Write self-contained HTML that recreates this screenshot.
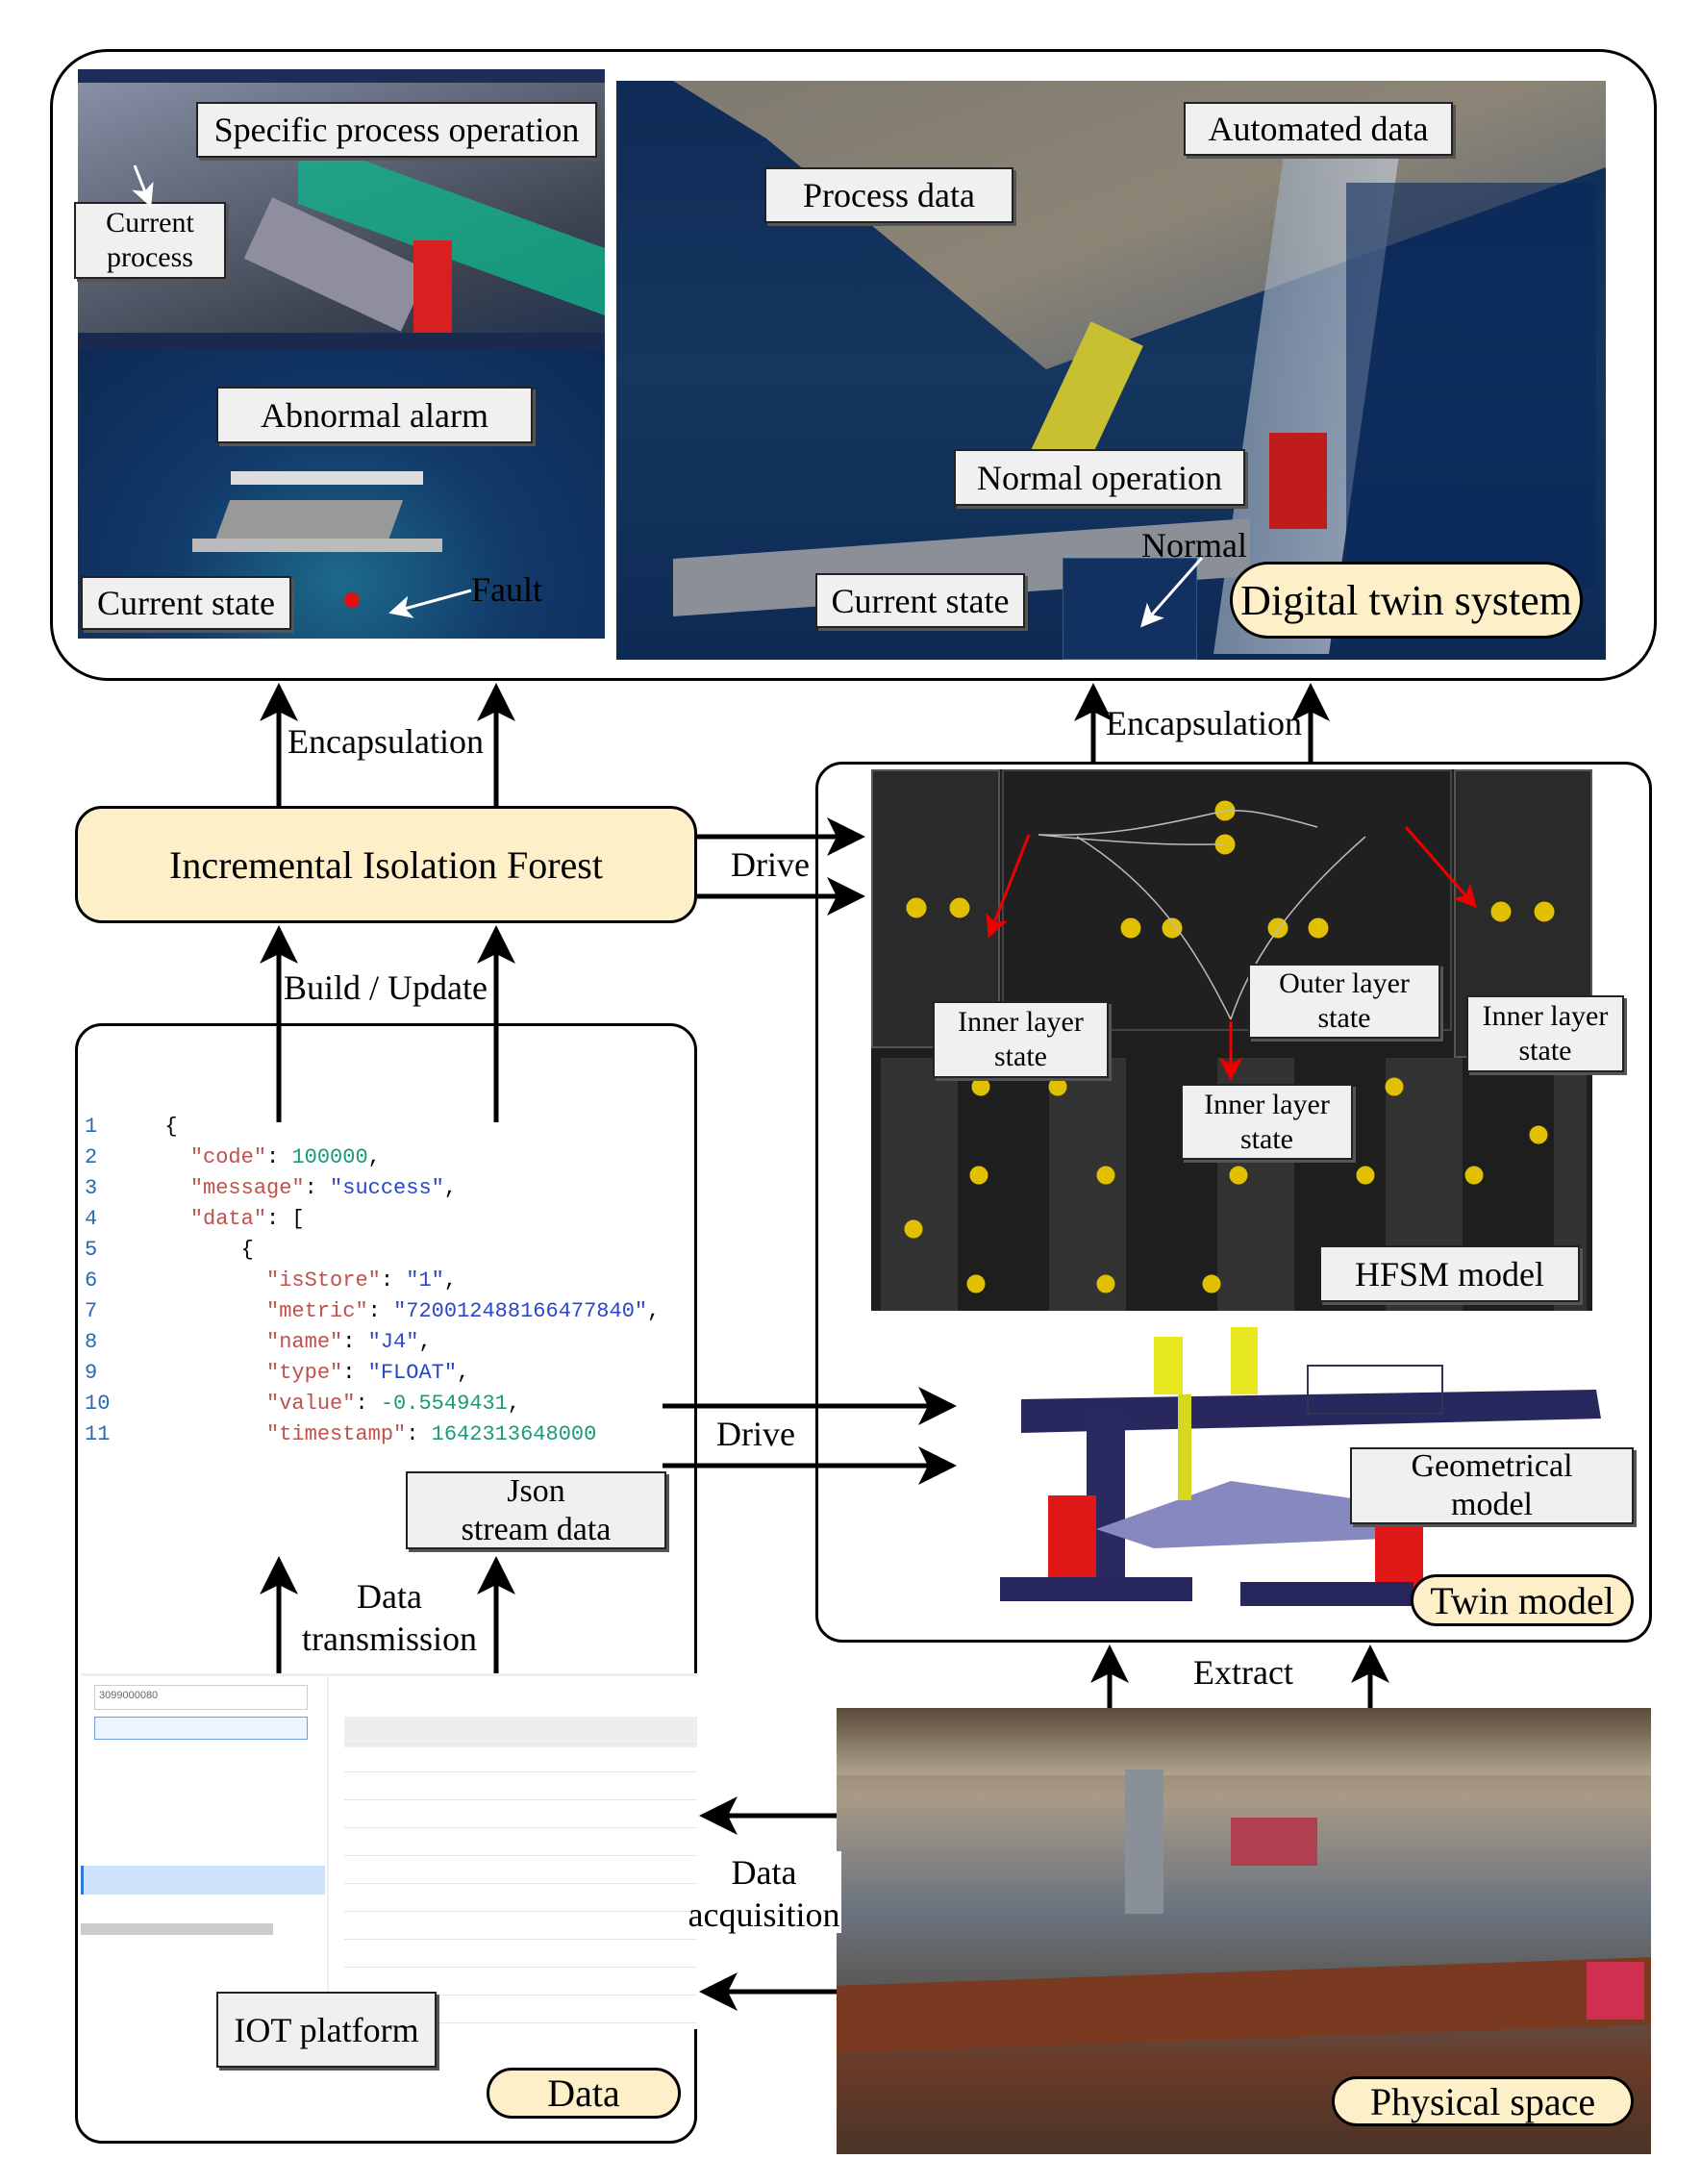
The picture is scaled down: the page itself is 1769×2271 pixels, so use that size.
<!DOCTYPE html>
<html><head><meta charset="utf-8"><style>
body{margin:0;width:1769px;height:2271px;background:#fff;position:relative;overflow:hidden;font-family:"Liberation Serif","Noto Serif CJK SC",serif;}
div{position:absolute;box-sizing:border-box;}
.lbl{background:#f0f0f0;border:2px solid #222;box-shadow:3px 3px 0 #555;display:flex;align-items:center;justify-content:center;text-align:center;font-size:36px;line-height:38px;color:#000;}
.pill{background:#fdf0c8;border:3px solid #000;border-radius:28px;display:flex;align-items:center;justify-content:center;font-size:40px;color:#000;}
.t{font-size:36px;color:#000;white-space:nowrap;}
.code{font-family:"Liberation Mono",monospace;font-size:22px;line-height:32px;white-space:pre;}
.k{color:#c0504d}.s{color:#2a46c8}.n{color:#1a9a7a}.ln{color:#2a6ab0}
</style></head><body>
<div style="left:52px;top:51px;width:1671px;height:657px;border:3px solid #000;border-radius:60px;"></div>
<div style="left:81px;top:72px;width:548px;height:292px;background:linear-gradient(160deg,#8a93a8 0%,#5d6577 40%,#3e4450 70%,#1e3050 100%);"></div>
<div style="left:81px;top:72px;width:548px;height:14px;background:#1c2d5a;"></div>
<div style="left:310px;top:200px;width:319px;height:70px;background:#11b08a;transform:skewY(20deg);opacity:.8"></div>
<div style="left:260px;top:240px;width:180px;height:70px;background:#8e8e9e;transform:rotate(25deg);"></div>
<div style="left:430px;top:250px;width:40px;height:110px;background:#d82020;"></div>
<div style="left:81px;top:346px;width:548px;height:22px;background:#1a2a4e;"></div>
<div style="left:81px;top:364px;width:548px;height:300px;background:radial-gradient(ellipse at 50% 80%,#1d6a8a 0%,#123a6a 45%,#0d2a55 100%);"></div>
<div style="left:240px;top:490px;width:200px;height:14px;background:#ddd;"></div>
<div style="left:230px;top:520px;width:180px;height:50px;background:#999;transform:skewX(-20deg);"></div>
<div style="left:200px;top:560px;width:260px;height:14px;background:#bbb;"></div>
<div style="left:641px;top:84px;width:1029px;height:602px;background:linear-gradient(180deg,#0f2b57 0%,#15365f 50%,#0d2a55 100%);"></div>
<div style="left:700px;top:84px;width:970px;height:300px;background:linear-gradient(160deg,#7f7a70 0%,#8c8576 50%,#4a5a70 100%);clip-path:polygon(0 0,100% 0,100% 30%,40% 100%,10% 20%);"></div>
<div style="left:1100px;top:340px;width:60px;height:150px;background:#c8c030;transform:rotate(25deg);"></div>
<div style="left:1300px;top:140px;width:120px;height:540px;background:linear-gradient(90deg,#9aa8b8,#c0c8d4);opacity:.7;transform:skewX(-8deg);"></div>
<div style="left:1320px;top:450px;width:60px;height:100px;background:#c01c1c;"></div>
<div style="left:700px;top:560px;width:600px;height:60px;background:#8a8f98;transform:skewY(-4deg);"></div>
<div style="left:1105px;top:580px;width:140px;height:106px;background:#123060;border:1px solid #2b5a8a;"></div>
<div style="left:1400px;top:190px;width:260px;height:420px;background:rgba(10,40,90,.6);"></div>
<div class="lbl" style="left:204px;top:106px;width:417px;height:58px;">Specific process operation</div>
<div class="lbl" style="left:77px;top:210px;width:158px;height:80px;font-size:30px;line-height:36px;">Current<br>process</div>
<div class="lbl" style="left:225px;top:402px;width:329px;height:59px;">Abnormal alarm</div>
<div class="lbl" style="left:84px;top:599px;width:219px;height:56px;">Current state</div>
<div class="t" style="left:490px;top:592px;color:#000;">Fault</div>
<div style="left:350px;top:608px;width:32px;height:32px;border-radius:50%;background:#e01010;transform:scale(.5);"></div>
<div class="lbl" style="left:1231px;top:106px;width:280px;height:56px;">Automated data</div>
<div class="lbl" style="left:795px;top:174px;width:259px;height:58px;">Process data</div>
<div class="lbl" style="left:992px;top:467px;width:303px;height:59px;">Normal operation</div>
<div class="lbl" style="left:848px;top:596px;width:218px;height:57px;">Current state</div>
<div class="t" style="left:1187px;top:546px;">Normal</div>
<div class="pill" style="left:1279px;top:584px;width:367px;height:80px;border-radius:40px;font-size:44px;">Digital twin system</div>
<svg style="position:absolute;left:0;top:0" width="1769" height="2271">
<defs><marker id="a" markerWidth="8" markerHeight="8" refX="6" refY="4" orient="auto" markerUnits="strokeWidth"><path d="M0,0 L8,4 L0,8 L2,4z" fill="#000"/></marker>
<marker id="w" markerWidth="8" markerHeight="8" refX="6" refY="4" orient="auto" markerUnits="strokeWidth"><path d="M0,0 L8,4 L0,8 L2,4z" fill="#fff"/></marker>
<marker id="r" markerWidth="8" markerHeight="8" refX="6" refY="4" orient="auto" markerUnits="strokeWidth"><path d="M0,0 L8,4 L0,8 L2,4z" fill="#e00"/></marker></defs>
<g stroke="#fff" stroke-width="3" fill="none">
<line x1="490" y1="614" x2="410" y2="636" marker-end="url(#w)"/>
<line x1="1250" y1="580" x2="1190" y2="648" marker-end="url(#w)"/>
<line x1="140" y1="172" x2="155" y2="210" marker-end="url(#w)"/>
</g>
<g stroke="#000" stroke-width="5" fill="none">
<line x1="290" y1="838" x2="290" y2="720" marker-end="url(#a)"/>
<line x1="516" y1="838" x2="516" y2="720" marker-end="url(#a)"/>
<line x1="1137" y1="794" x2="1137" y2="720" marker-end="url(#a)"/>
<line x1="1363" y1="794" x2="1363" y2="720" marker-end="url(#a)"/>
<line x1="725" y1="870" x2="890" y2="870" marker-end="url(#a)"/>
<line x1="725" y1="932" x2="890" y2="932" marker-end="url(#a)"/>
<line x1="290" y1="1167" x2="290" y2="972" marker-end="url(#a)"/>
<line x1="516" y1="1167" x2="516" y2="972" marker-end="url(#a)"/>
<line x1="689" y1="1462" x2="985" y2="1462" marker-end="url(#a)"/>
<line x1="689" y1="1524" x2="985" y2="1524" marker-end="url(#a)"/>
<line x1="290" y1="1740" x2="290" y2="1628" marker-end="url(#a)"/>
<line x1="516" y1="1740" x2="516" y2="1628" marker-end="url(#a)"/>
<line x1="1154" y1="1779" x2="1154" y2="1720" marker-end="url(#a)"/>
<line x1="1425" y1="1779" x2="1425" y2="1720" marker-end="url(#a)"/>
<line x1="870" y1="1888" x2="737" y2="1888" marker-end="url(#a)"/>
<line x1="870" y1="2071" x2="737" y2="2071" marker-end="url(#a)"/>
</g>
</svg>
<div class="t" style="left:299px;top:750px;">Encapsulation</div>
<div class="t" style="left:1150px;top:731px;">Encapsulation</div>
<div class="pill" style="left:78px;top:838px;width:647px;height:122px;font-size:40px;">Incremental Isolation Forest</div>
<div class="t" style="left:760px;top:878px;">Drive</div>
<div class="t" style="left:295px;top:1006px;background:#fff;">Build / Update</div>
<div style="left:78px;top:1064px;width:647px;height:1165px;border:3px solid #000;border-radius:28px;"></div>
<div class="code" style="left:88px;top:1156px;"><span class="ln">1
2
3
4
5
6
7
8
9
10
11</span></div>
<div class="code" style="left:145px;top:1156px;">  {
    <span class="k">"code"</span>: <span class="n">100000</span>,
    <span class="k">"message"</span>: <span class="s">"success"</span>,
    <span class="k">"data"</span>: [
        {
          <span class="k">"isStore"</span>: <span class="s">"1"</span>,
          <span class="k">"metric"</span>: <span class="s">"720012488166477840"</span>,
          <span class="k">"name"</span>: <span class="s">"J4"</span>,
          <span class="k">"type"</span>: <span class="s">"FLOAT"</span>,
          <span class="k">"value"</span>: <span class="n">-0.5549431</span>,
          <span class="k">"timestamp"</span>: <span class="n">1642313648000</span></div>
<div class="lbl" style="left:422px;top:1530px;width:271px;height:81px;font-size:34px;line-height:40px;">Json<br>stream data</div>
<div class="t" style="left:310px;top:1638px;width:190px;text-align:center;line-height:44px;">Data<br>transmission</div>
<div style="left:84px;top:1740px;width:641px;height:370px;background:#fff;border-top:3px solid #eee;"></div>
<div style="left:98px;top:1752px;width:222px;height:26px;border:1px solid #ccc;font-size:11px;font-family:'Liberation Sans';color:#666;padding:4px;">3099000080</div>
<div style="left:98px;top:1785px;width:222px;height:24px;border:1px solid #6aa0e0;background:#eef4ff;"></div>
<div style="left:84px;top:1940px;width:254px;height:30px;background:#cfe2fb;border-left:3px solid #2a7ae0;"></div>
<div style="left:84px;top:2000px;width:200px;height:12px;background:#ccc;"></div>
<div style="left:340px;top:1740px;width:2px;height:370px;background:#eee;"></div>
<div style="left:358px;top:1785px;width:367px;height:32px;background:#eee;"></div>
<div style="left:358px;top:1785px;width:367px;height:325px;background:repeating-linear-gradient(180deg,transparent 0 28px,#e4e4e4 28px 29px);"></div>
<div class="lbl" style="left:225px;top:2071px;width:229px;height:79px;">IOT platform</div>
<div class="pill" style="left:506px;top:2150px;width:202px;height:53px;">Data</div>
<div style="left:848px;top:792px;width:870px;height:916px;border:3px solid #000;border-radius:28px;"></div>
<div style="left:906px;top:800px;width:750px;height:563px;background:#1e1e1e;"></div>
<div style="left:906px;top:800px;width:134px;height:290px;background:#2a2a2a;border:2px solid #555;"></div>
<div style="left:1512px;top:800px;width:144px;height:300px;background:#2a2a2a;border:2px solid #555;"></div>
<div style="left:1042px;top:800px;width:468px;height:272px;background:#202020;border:2px solid #444;"></div>
<div style="left:906px;top:1100px;width:744px;height:263px;background:repeating-linear-gradient(90deg,#1e1e1e 0 10px,#353535 10px 90px,#1e1e1e 90px 175px);opacity:.9"></div>
<svg style="position:absolute;left:0;top:0" width="1769" height="2271">
<g fill="#e0c000" stroke="#e0c000">
<circle cx="953" cy="944" r="10"/><circle cx="998" cy="944" r="10"/><circle cx="1274" cy="843" r="10"/><circle cx="1274" cy="878" r="10"/>
<circle cx="1176" cy="965" r="10"/><circle cx="1219" cy="965" r="10"/><circle cx="1329" cy="965" r="10"/><circle cx="1371" cy="965" r="10"/>
<circle cx="1561" cy="948" r="10"/><circle cx="1606" cy="948" r="10"/>
<circle cx="1020" cy="1130" r="9"/><circle cx="1100" cy="1130" r="9"/><circle cx="1450" cy="1130" r="9"/><circle cx="1600" cy="1180" r="9"/>
<circle cx="950" cy="1278" r="9"/><circle cx="1018" cy="1222" r="9"/><circle cx="1150" cy="1222" r="9"/><circle cx="1288" cy="1222" r="9"/><circle cx="1420" cy="1222" r="9"/><circle cx="1533" cy="1222" r="9"/>
<circle cx="1015" cy="1335" r="9"/><circle cx="1150" cy="1335" r="9"/><circle cx="1260" cy="1335" r="9"/>
</g>
<g stroke="#bbb" stroke-width="1.5" fill="none">
<path d="M1080 868 C1150 870 1200 860 1274 843 M1080 868 C1200 880 1240 878 1274 878 M1370 860 C1300 840 1290 843 1274 843"/>
<path d="M1120 870 C1200 920 1240 980 1280 1060 M1420 870 C1340 940 1300 1000 1280 1060"/>
</g>
<g stroke="#e00" stroke-width="3" fill="none">
<line x1="1070" y1="868" x2="1030" y2="970" marker-end="url(#r)"/>
<line x1="1462" y1="860" x2="1532" y2="940" marker-end="url(#r)"/>
<line x1="1280" y1="1062" x2="1280" y2="1118" marker-end="url(#r)"/>
</g>
<polygon points="1062,1455 1660,1445 1665,1475 1062,1490" fill="#28285e"/>
<rect x="1130" y="1470" width="40" height="180" fill="#2a2a60"/>
<polygon points="1140,1590 1280,1540 1420,1560 1440,1600 1200,1610" fill="#8888c0"/>
<rect x="1200" y="1390" width="30" height="60" fill="#e8e820"/><rect x="1280" y="1380" width="28" height="70" fill="#e8e820"/>
<rect x="1225" y="1450" width="14" height="110" fill="#d8d820"/>
<rect x="1090" y="1555" width="50" height="90" fill="#e01818"/><rect x="1430" y="1585" width="50" height="70" fill="#e01818"/>
<rect x="1040" y="1640" width="200" height="25" fill="#26265c"/><rect x="1290" y="1645" width="180" height="25" fill="#26265c"/>
<rect x="1360" y="1420" width="140" height="50" fill="none" stroke="#335" stroke-width="2"/>
</svg>
<div class="lbl" style="left:970px;top:1041px;width:183px;height:80px;font-size:30px;line-height:36px;">Inner layer<br>state</div>
<div class="lbl" style="left:1298px;top:1002px;width:200px;height:78px;font-size:30px;line-height:36px;">Outer layer<br>state</div>
<div class="lbl" style="left:1525px;top:1035px;width:164px;height:80px;font-size:30px;line-height:36px;">Inner layer<br>state</div>
<div class="lbl" style="left:1228px;top:1127px;width:179px;height:79px;font-size:30px;line-height:36px;">Inner layer<br>state</div>
<div class="lbl" style="left:1372px;top:1295px;width:271px;height:59px;">HFSM model</div>
<div class="t" style="left:745px;top:1470px;">Drive</div>
<div class="lbl" style="left:1404px;top:1505px;width:295px;height:80px;font-size:34px;line-height:40px;">Geometrical<br>model</div>
<div class="pill" style="left:1467px;top:1637px;width:232px;height:54px;">Twin model</div>
<div class="t" style="left:1241px;top:1718px;">Extract</div>
<div style="left:870px;top:1776px;width:847px;height:464px;background:linear-gradient(180deg,#8a7050 0%,#a89a86 20%,#6b7480 45%,#5a5550 65%,#6a3a28 80%,#4a3528 100%);"></div>
<div style="left:870px;top:1776px;width:847px;height:70px;background:linear-gradient(180deg,#5a4a3a,#b0a48e);"></div>
<div style="left:1170px;top:1840px;width:40px;height:150px;background:#8a9098;"></div>
<div style="left:870px;top:2050px;width:847px;height:70px;background:#7a3a22;transform:skewY(-2deg);"></div>
<div style="left:1280px;top:1890px;width:90px;height:50px;background:#b04050;"></div>
<div style="left:1650px;top:2040px;width:60px;height:60px;background:#d03050;"></div>
<div style="left:725px;top:1925px;width:150px;height:85px;background:#fff;"></div>
<div class="t" style="left:712px;top:1925px;width:165px;text-align:center;line-height:44px;">Data<br>acquisition</div>
<div class="pill" style="left:1385px;top:2159px;width:314px;height:52px;">Physical space</div>
</body></html>
